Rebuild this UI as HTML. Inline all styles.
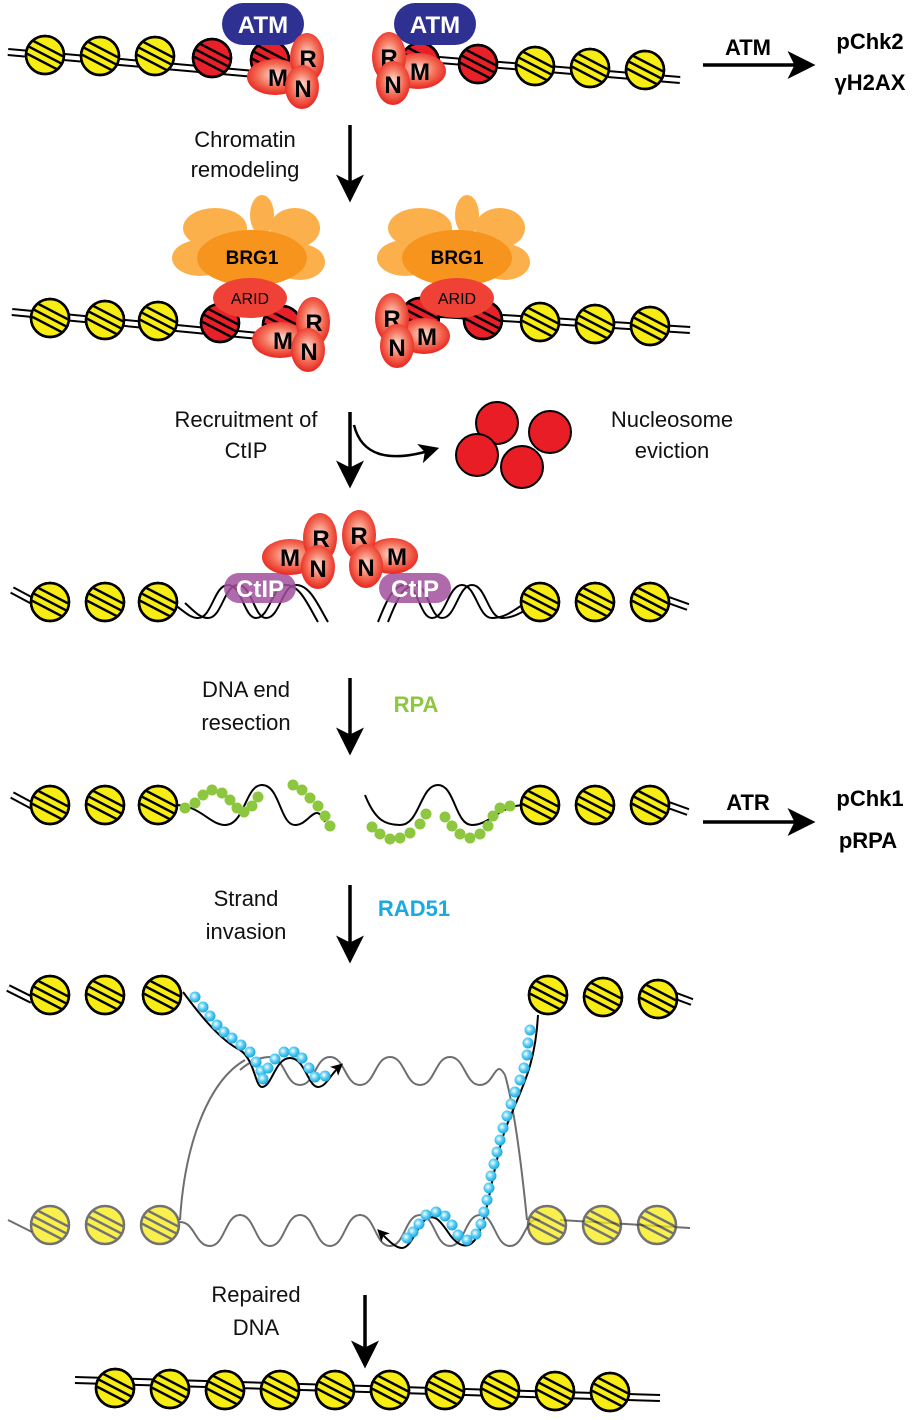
<!DOCTYPE html>
<html><head><meta charset="utf-8"><style>
body{margin:0;background:#fff}
svg{display:block}
text{font-family:"Liberation Sans",Arial,sans-serif}
.lb{font-size:22px;fill:#111;text-anchor:middle}
</style></head><body>
<svg width="916" height="1420" viewBox="0 0 916 1420" xmlns="http://www.w3.org/2000/svg">
<defs>
<radialGradient id="rg" cx="50%" cy="45%" r="55%"><stop offset="0" stop-color="#fde0d6"/><stop offset="0.55" stop-color="#f4715a"/><stop offset="1" stop-color="#e8251f"/></radialGradient>
<radialGradient id="bg" cx="40%" cy="40%" r="60%"><stop offset="0" stop-color="#ffffff"/><stop offset="0.5" stop-color="#5fd0f5"/><stop offset="1" stop-color="#1aa7e0"/></radialGradient>
<clipPath id="cc"><circle r="19"/></clipPath>
<g id="ny"><circle r="19" fill="#f7ec13" stroke="#000" stroke-width="2.5"/><g clip-path="url(#cc)" stroke="#000" stroke-width="2.5"><line x1="-25" y1="-21" x2="25" y2="5"/><line x1="-25" y1="-13" x2="25" y2="13"/><line x1="-25" y1="-5" x2="25" y2="21"/></g><circle r="19" fill="none" stroke="#000" stroke-width="2.5"/></g>
<g id="nr"><circle r="19" fill="#e8202a" stroke="#000" stroke-width="2.5"/><g clip-path="url(#cc)" stroke="#000" stroke-width="2.5"><line x1="-25" y1="-21" x2="25" y2="5"/><line x1="-25" y1="-13" x2="25" y2="13"/><line x1="-25" y1="-5" x2="25" y2="21"/></g><circle r="19" fill="none" stroke="#000" stroke-width="2.5"/></g>
<g id="ng" opacity="0.75"><circle r="19" fill="#f7ec13" stroke="#444" stroke-width="2.5"/><g clip-path="url(#cc)" stroke="#444" stroke-width="2.5"><line x1="-25" y1="-21" x2="25" y2="5"/><line x1="-25" y1="-13" x2="25" y2="13"/><line x1="-25" y1="-5" x2="25" y2="21"/></g></g>
<marker id="ah" markerWidth="8" markerHeight="8" refX="5" refY="4" orient="auto" markerUnits="strokeWidth"><path d="M0,0 L8,4 L0,8 L2,4z" fill="#000"/></marker>
<marker id="as" markerWidth="6" markerHeight="6" refX="4" refY="3" orient="auto" markerUnits="strokeWidth"><path d="M0,0 L6,3 L0,6 L1.5,3z" fill="#000"/></marker>
</defs>

<!-- ROW 1 -->
<path d="M8,52 L300,78 M380,55 L680,80" stroke="#000" stroke-width="8" fill="none"/>
<path d="M8,52 L300,78 M380,55 L680,80" stroke="#fff" stroke-width="4" fill="none"/>
<use href="#ny" x="45" y="55"/><use href="#ny" x="100" y="56"/><use href="#ny" x="155" y="56"/><use href="#nr" x="212" y="58"/><use href="#nr" x="270" y="60"/>
<use href="#nr" x="420" y="62"/><use href="#nr" x="478" y="64"/><use href="#ny" x="535" y="66"/><use href="#ny" x="590" y="68"/><use href="#ny" x="645" y="70"/>
<rect x="222" y="3" width="82" height="42" rx="21" fill="#2e3192"/><text x="263" y="33" fill="#fff" font-size="24" font-weight="bold" text-anchor="middle">ATM</text>
<rect x="394" y="3" width="82" height="42" rx="21" fill="#2e3192"/><text x="435" y="33" fill="#fff" font-size="24" font-weight="bold" text-anchor="middle">ATM</text>
<g font-size="24" font-weight="bold" text-anchor="middle">
<ellipse cx="275" cy="77" rx="28" ry="18" fill="url(#rg)"/><text x="278" y="86">M</text>
<ellipse cx="307" cy="58" rx="17" ry="25" fill="url(#rg)"/><text x="308" y="67">R</text>
<ellipse cx="302" cy="87" rx="17" ry="22" fill="url(#rg)"/><text x="303" y="97">N</text>
<ellipse cx="418" cy="71" rx="28" ry="18" fill="url(#rg)"/><text x="420" y="80">M</text>
<ellipse cx="389" cy="57" rx="17" ry="25" fill="url(#rg)"/><text x="389" y="66">R</text>
<ellipse cx="393" cy="83" rx="17" ry="22" fill="url(#rg)"/><text x="393" y="93">N</text>
</g>
<line x1="703" y1="65" x2="805" y2="65" stroke="#000" stroke-width="3.5" marker-end="url(#ah)"/>
<text x="748" y="55" font-size="22" font-weight="bold" text-anchor="middle">ATM</text>
<text x="870" y="49" font-size="22" font-weight="bold" text-anchor="middle">pChk2</text>
<text x="870" y="90" font-size="22" font-weight="bold" text-anchor="middle">γH2AX</text>

<text class="lb" x="245" y="147">Chromatin</text><text class="lb" x="245" y="177">remodeling</text>
<line x1="350" y1="125" x2="350" y2="192" stroke="#000" stroke-width="3.5" marker-end="url(#ah)"/>

<!-- ROW 2 -->
<path d="M12,312 L300,340 M380,310 L690,330" stroke="#000" stroke-width="8" fill="none"/>
<path d="M12,312 L300,340 M380,310 L690,330" stroke="#fff" stroke-width="4" fill="none"/>
<use href="#ny" x="50" y="318"/><use href="#ny" x="105" y="320"/><use href="#ny" x="158" y="321"/><use href="#nr" x="220" y="323"/><use href="#nr" x="282" y="325"/>
<use href="#nr" x="420" y="317"/><use href="#nr" x="483" y="320"/><use href="#ny" x="540" y="322"/><use href="#ny" x="595" y="324"/><use href="#ny" x="650" y="326"/>
<g fill="#fbb04c">
<ellipse cx="215" cy="228" rx="32" ry="20"/><ellipse cx="262" cy="215" rx="12" ry="20"/><ellipse cx="295" cy="228" rx="25" ry="20"/><ellipse cx="200" cy="258" rx="28" ry="18"/><ellipse cx="300" cy="262" rx="25" ry="18"/>
<ellipse cx="420" cy="228" rx="32" ry="20"/><ellipse cx="467" cy="215" rx="12" ry="20"/><ellipse cx="500" cy="228" rx="25" ry="20"/><ellipse cx="405" cy="258" rx="28" ry="18"/><ellipse cx="505" cy="262" rx="25" ry="18"/>
</g>
<ellipse cx="252" cy="258" rx="55" ry="28" fill="#f7941d"/><ellipse cx="457" cy="258" rx="55" ry="28" fill="#f7941d"/>
<text x="252" y="264" font-size="19" font-weight="bold" text-anchor="middle">BRG1</text>
<text x="457" y="264" font-size="19" font-weight="bold" text-anchor="middle">BRG1</text>
<ellipse cx="250" cy="298" rx="37" ry="20" fill="#ef4136"/><text x="250" y="304" font-size="16" text-anchor="middle">ARID</text>
<ellipse cx="457" cy="298" rx="37" ry="20" fill="#ef4136"/><text x="457" y="304" font-size="16" text-anchor="middle">ARID</text>
<g font-size="24" font-weight="bold" text-anchor="middle">
<ellipse cx="280" cy="340" rx="28" ry="18" fill="url(#rg)"/><text x="283" y="349">M</text>
<ellipse cx="313" cy="322" rx="17" ry="25" fill="url(#rg)"/><text x="314" y="331">R</text>
<ellipse cx="308" cy="350" rx="17" ry="22" fill="url(#rg)"/><text x="309" y="360">N</text>
<ellipse cx="424" cy="336" rx="26" ry="18" fill="url(#rg)"/><text x="427" y="345">M</text>
<ellipse cx="392" cy="318" rx="17" ry="25" fill="url(#rg)"/><text x="392" y="327">R</text>
<ellipse cx="397" cy="346" rx="17" ry="22" fill="url(#rg)"/><text x="397" y="356">N</text>
</g>

<text class="lb" x="246" y="427">Recruitment of</text><text class="lb" x="246" y="458">CtIP</text>
<line x1="350" y1="412" x2="350" y2="478" stroke="#000" stroke-width="3.5" marker-end="url(#ah)"/>
<path d="M354,425 Q365,470 432,450" fill="none" stroke="#000" stroke-width="2.5" marker-end="url(#ah)"/>
<g fill="#e81d25" stroke="#000" stroke-width="2"><circle cx="497" cy="423" r="21"/><circle cx="550" cy="432" r="21"/><circle cx="477" cy="455" r="21"/><circle cx="522" cy="467" r="21"/></g>
<text class="lb" x="672" y="427">Nucleosome</text><text class="lb" x="672" y="458">eviction</text>

<!-- ROW 4 -->
<path d="M12,590 L40,605 M660,597 L688,607" stroke="#000" stroke-width="8" fill="none"/>
<path d="M12,590 L40,605 M660,597 L688,607" stroke="#fff" stroke-width="4" fill="none"/>
<g fill="none" stroke="#000" stroke-width="2">
<path d="M175,605 C185,612 190,618 198,618 C212,618 214,585 228,585 C242,585 244,618 256,618 C270,618 272,585 286,585 C300,585 308,605 318,622"/>
<path d="M185,603 C195,612 200,618 208,618 C222,618 224,585 238,585 C252,585 254,618 266,618 C280,618 282,585 296,585 C310,585 318,605 328,622"/>
<path d="M378,622 C385,605 392,585 405,585 C418,585 420,618 432,618 C446,618 448,585 462,585 C476,585 478,618 492,618 C504,618 512,612 525,603"/>
<path d="M388,622 C395,605 402,585 415,585 C428,585 430,618 442,618 C456,618 458,585 472,585 C486,585 488,618 502,618 C514,618 522,612 535,605"/>
</g>
<use href="#ny" x="50" y="602"/><use href="#ny" x="105" y="602"/><use href="#ny" x="158" y="602"/>
<use href="#ny" x="540" y="602"/><use href="#ny" x="595" y="602"/><use href="#ny" x="650" y="602"/>
<rect x="224" y="573" width="72" height="30" rx="15" fill="#a0509c" opacity="0.85"/><text x="260" y="597" fill="#fff" font-size="24" font-weight="bold" text-anchor="middle">CtIP</text>
<rect x="379" y="573" width="72" height="30" rx="15" fill="#a0509c" opacity="0.85"/><text x="415" y="597" fill="#fff" font-size="24" font-weight="bold" text-anchor="middle">CtIP</text>
<g font-size="24" font-weight="bold" text-anchor="middle">
<ellipse cx="290" cy="557" rx="28" ry="18" fill="url(#rg)"/><text x="290" y="566">M</text>
<ellipse cx="320" cy="538" rx="17" ry="25" fill="url(#rg)"/><text x="321" y="547">R</text>
<ellipse cx="318" cy="567" rx="17" ry="22" fill="url(#rg)"/><text x="318" y="577">N</text>
<ellipse cx="392" cy="556" rx="26" ry="18" fill="url(#rg)"/><text x="397" y="565">M</text>
<ellipse cx="359" cy="535" rx="17" ry="25" fill="url(#rg)"/><text x="359" y="544">R</text>
<ellipse cx="366" cy="566" rx="17" ry="22" fill="url(#rg)"/><text x="366" y="576">N</text>
</g>

<text class="lb" x="246" y="697">DNA end</text><text class="lb" x="246" y="730">resection</text>
<line x1="350" y1="678" x2="350" y2="745" stroke="#000" stroke-width="3.5" marker-end="url(#ah)"/>
<text x="416" y="712" font-size="22" font-weight="bold" fill="#8dc63f" text-anchor="middle">RPA</text>

<!-- ROW 5 -->
<path d="M12,795 L40,810 M660,802 L688,812" stroke="#000" stroke-width="8" fill="none"/>
<path d="M12,795 L40,810 M660,802 L688,812" stroke="#fff" stroke-width="4" fill="none"/>
<path d="M175,805 C200,805 210,825 225,825 C245,825 245,785 262,785 C280,785 280,825 295,825 C310,825 315,800 325,822" fill="none" stroke="#000" stroke-width="2"/>
<path d="M365,795 C375,820 385,825 400,825 C420,825 420,785 438,785 C455,785 455,825 472,825 C490,825 500,805 525,805" fill="none" stroke="#000" stroke-width="2"/>
<g fill="#8dc63f">
<circle cx="185" cy="808" r="5.5"/><circle cx="195" cy="803" r="5.5"/><circle cx="203" cy="795" r="5.5"/><circle cx="212" cy="790" r="5.5"/><circle cx="222" cy="793" r="5.5"/><circle cx="230" cy="800" r="5.5"/><circle cx="237" cy="808" r="5.5"/><circle cx="244" cy="812" r="5.5"/><circle cx="252" cy="806" r="5.5"/><circle cx="258" cy="797" r="5.5"/>
<circle cx="293" cy="785" r="5.5"/><circle cx="302" cy="790" r="5.5"/><circle cx="310" cy="798" r="5.5"/><circle cx="318" cy="806" r="5.5"/><circle cx="325" cy="816" r="5.5"/><circle cx="330" cy="826" r="5.5"/>
<circle cx="372" cy="827" r="5.5"/><circle cx="380" cy="834" r="5.5"/><circle cx="390" cy="839" r="5.5"/><circle cx="400" cy="838" r="5.5"/><circle cx="410" cy="833" r="5.5"/><circle cx="420" cy="824" r="5.5"/><circle cx="426" cy="814" r="5.5"/>
<circle cx="445" cy="817" r="5.5"/><circle cx="452" cy="826" r="5.5"/><circle cx="460" cy="834" r="5.5"/><circle cx="470" cy="838" r="5.5"/><circle cx="480" cy="834" r="5.5"/><circle cx="488" cy="826" r="5.5"/><circle cx="493" cy="816" r="5.5"/><circle cx="500" cy="808" r="5.5"/><circle cx="510" cy="806" r="5.5"/>
</g>
<use href="#ny" x="50" y="805"/><use href="#ny" x="105" y="805"/><use href="#ny" x="158" y="805"/>
<use href="#ny" x="540" y="805"/><use href="#ny" x="595" y="805"/><use href="#ny" x="650" y="805"/>
<line x1="703" y1="822" x2="805" y2="822" stroke="#000" stroke-width="3.5" marker-end="url(#ah)"/>
<text x="748" y="810" font-size="22" font-weight="bold" text-anchor="middle">ATR</text>
<text x="870" y="806" font-size="22" font-weight="bold" text-anchor="middle">pChk1</text>
<text x="868" y="848" font-size="22" font-weight="bold" text-anchor="middle">pRPA</text>

<text class="lb" x="246" y="906">Strand</text><text class="lb" x="246" y="939">invasion</text>
<line x1="350" y1="885" x2="350" y2="953" stroke="#000" stroke-width="3.5" marker-end="url(#ah)"/>
<text x="414" y="916" font-size="22" font-weight="bold" fill="#1ba9e1" text-anchor="middle">RAD51</text>

<!-- ROW 6 -->
<g fill="none" stroke="#6d6e71" stroke-width="2">
<path d="M240,1070 Q255,1057 270,1057 C285,1057 285,1085 300,1085 C315,1085 315,1057 330,1057 C345,1057 345,1085 360,1085 C375,1085 375,1057 390,1057 C405,1057 405,1085 420,1085 C435,1085 435,1057 450,1057 C465,1057 465,1085 480,1085 C495,1085 495,1057 505,1075"/>
<path d="M180,1222 C195,1222 195,1246 210,1246 C225,1246 225,1215 240,1215 C255,1215 255,1246 270,1246 C285,1246 285,1215 300,1215 C315,1215 315,1246 330,1246 C345,1246 345,1215 360,1215 C375,1215 375,1246 390,1246 C405,1246 405,1215 420,1215 C435,1215 435,1246 450,1246 C465,1246 465,1215 480,1215 C495,1215 495,1246 510,1246 C525,1246 525,1215 540,1220"/>
<path d="M180,1220 C185,1140 210,1080 245,1060"/>
<path d="M505,1075 C515,1110 522,1170 527,1220"/>
<path d="M8,1220 L32,1232 M560,1220 L690,1228"/>
</g>
<path d="M8,988 L32,1000 M660,990 L692,1002" stroke="#000" stroke-width="8" fill="none"/>
<path d="M8,988 L32,1000 M660,990 L692,1002" stroke="#fff" stroke-width="4" fill="none"/>
<path d="M183,992 C200,1015 220,1040 240,1050 C255,1060 255,1087 262,1087 C272,1087 275,1058 290,1058 C305,1058 308,1087 318,1087 C326,1087 330,1075 340,1066" fill="none" stroke="#000" stroke-width="2" marker-end="url(#as)"/>
<path d="M538,1015 C535,1070 520,1090 505,1130 C492,1170 488,1215 478,1235 C470,1250 460,1248 450,1235 C440,1220 435,1215 428,1218 C418,1222 412,1248 402,1248 C395,1248 388,1240 380,1232" fill="none" stroke="#000" stroke-width="2" marker-end="url(#as)"/>
<g fill="url(#bg)">
<circle cx="195" cy="997" r="5.5"/><circle cx="203" cy="1007" r="5.5"/><circle cx="210" cy="1016" r="5.5"/><circle cx="217" cy="1025" r="5.5"/><circle cx="224" cy="1032" r="5.5"/><circle cx="232" cy="1038" r="5.5"/><circle cx="241" cy="1045" r="5.5"/><circle cx="250" cy="1052" r="5.5"/><circle cx="256" cy="1062" r="5.5"/><circle cx="261" cy="1071" r="5.5"/><circle cx="263" cy="1079" r="5.5"/><circle cx="268" cy="1068" r="5.5"/><circle cx="275" cy="1059" r="5.5"/><circle cx="284" cy="1052" r="5.5"/><circle cx="294" cy="1052" r="5.5"/><circle cx="302" cy="1058" r="5.5"/><circle cx="309" cy="1068" r="5.5"/><circle cx="315" cy="1077" r="5.5"/><circle cx="325" cy="1076" r="5.5"/>
<circle cx="530" cy="1030" r="5.5"/><circle cx="528" cy="1043" r="5.5"/><circle cx="527" cy="1055" r="5.5"/><circle cx="524" cy="1068" r="5.5"/><circle cx="520" cy="1080" r="5.5"/><circle cx="515" cy="1092" r="5.5"/><circle cx="511" cy="1104" r="5.5"/><circle cx="507" cy="1116" r="5.5"/><circle cx="503" cy="1128" r="5.5"/><circle cx="500" cy="1140" r="5.5"/><circle cx="497" cy="1152" r="5.5"/><circle cx="494" cy="1164" r="5.5"/><circle cx="491" cy="1176" r="5.5"/><circle cx="489" cy="1188" r="5.5"/><circle cx="487" cy="1200" r="5.5"/><circle cx="484" cy="1212" r="5.5"/><circle cx="481" cy="1224" r="5.5"/><circle cx="476" cy="1234" r="5.5"/><circle cx="467" cy="1240" r="5.5"/><circle cx="458" cy="1235" r="5.5"/><circle cx="452" cy="1225" r="5.5"/><circle cx="445" cy="1216" r="5.5"/><circle cx="436" cy="1212" r="5.5"/><circle cx="426" cy="1215" r="5.5"/><circle cx="419" cy="1224" r="5.5"/><circle cx="413" cy="1232" r="5.5"/><circle cx="407" cy="1238" r="5.5"/>
</g>
<use href="#ny" x="50" y="995"/><use href="#ny" x="105" y="995"/><use href="#ny" x="162" y="995"/>
<use href="#ny" x="548" y="995"/><use href="#ny" x="603" y="997"/><use href="#ny" x="658" y="999"/>
<use href="#ng" x="50" y="1225"/><use href="#ng" x="105" y="1225"/><use href="#ng" x="160" y="1225"/>
<use href="#ng" x="547" y="1225"/><use href="#ng" x="602" y="1225"/><use href="#ng" x="657" y="1225"/>

<text class="lb" x="256" y="1302">Repaired</text><text class="lb" x="256" y="1335">DNA</text>
<line x1="365" y1="1295" x2="365" y2="1358" stroke="#000" stroke-width="3.5" marker-end="url(#ah)"/>

<!-- ROW 7 -->
<path d="M75,1380 L660,1398" stroke="#000" stroke-width="8" fill="none"/>
<path d="M75,1380 L660,1398" stroke="#fff" stroke-width="4" fill="none"/>
<use href="#ny" x="115" y="1388"/><use href="#ny" x="170" y="1389"/><use href="#ny" x="225" y="1390"/><use href="#ny" x="280" y="1390"/><use href="#ny" x="335" y="1390"/><use href="#ny" x="390" y="1390"/><use href="#ny" x="445" y="1390"/><use href="#ny" x="500" y="1390"/><use href="#ny" x="555" y="1391"/><use href="#ny" x="610" y="1392"/>
</svg>
</body></html>
